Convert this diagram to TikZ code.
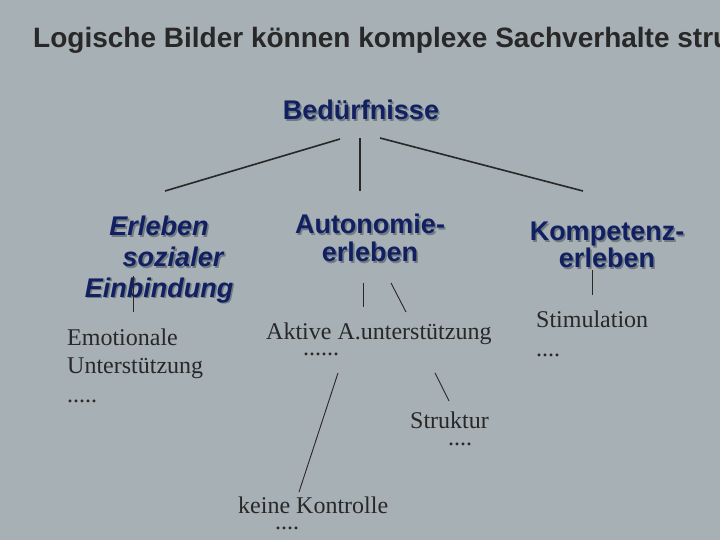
\documentclass[tikz,border=0pt]{standalone}
\usepackage{fontspec}
\setmainfont{Liberation Serif}
\setsansfont{Liberation Sans}
\usepackage{xcolor}
\usepackage{tikz}
\usetikzlibrary{positioning}
\definecolor{slidebg}{RGB}{166,176,181}
\definecolor{navy}{RGB}{18,32,98}
\definecolor{shadowgray}{RGB}{112,122,130}
\definecolor{ink}{RGB}{40,40,40}
\newcommand{\shad}[1]{\makebox[0pt][l]{\hspace{1.6bp}\raisebox{-1.6bp}{\color{shadowgray}#1}}#1}
\tikzset{>=latex}
\tikzset{head/.style = {inner sep=0, text=navy, align=center, anchor=base, font=\sffamily\bfseries\fontsize{27bp}{28bp}\selectfont}}
\tikzset{leaf/.style = {inner sep=0, text=ink, align=left, anchor=base west, font=\rmfamily\fontsize{24bp}{28.5bp}\selectfont}}
\tikzset{thickline/.style = {-, draw=ink, line width=1.6bp}}
\tikzset{thinline/.style = {-, draw=ink, line width=0.9bp}}

\begin{document}
\begin{tikzpicture}[x=1bp, y=-1bp]
\useasboundingbox (0,0) rectangle (720,540);
\clip (0,0) rectangle (720,540);
\fill [slidebg] (0,0) rectangle (720,540);
% title
\node [inner sep=0, anchor=base west, text=ink, font=\sffamily\bfseries\fontsize{28bp}{30bp}\selectfont] (title) at (33,48) {Logische Bilder können komplexe Sachverhalte strukturieren};
% needs (placed at baseline of last line)
\node [head] (bed) at (361,120) {\shad{Bedürfnisse}};
\node [head, font=\sffamily\bfseries\itshape\fontsize{27bp}{30.5bp}\selectfont] (erl) at (159,297) {\shad{Erleben}\\\hspace*{28bp}\shad{sozialer}\\\shad{Einbindung}};
\node [head] (aut) at (370,262) {\shad{Autonomie-}\\\shad{erleben}};
\node [head, font=\sffamily\bfseries\fontsize{27bp}{27bp}\selectfont] (kom) at (607,268) {\shad{Kompetenz-}\\\shad{erleben}};
% leaves
\node [leaf] (emo) at (67,402) {Emotionale\\Unterstützung\\.....};
\node [leaf] (akt) at (266,355) {Aktive A.unterstützung\\[-12.5bp]\hspace*{37bp}......};
\node [leaf] (sti) at (536,356) {Stimulation\\....};
\node [leaf] (str) at (410,445) {Struktur\\[-11.5bp]\hspace*{38bp}....};
\node [leaf] (kei) at (238,529) {keine Kontrolle\\[-12.5bp]\hspace*{37bp}....};
% line ends
\coordinate (bed-l) at (340,139);
\coordinate (bed-m) at (360,138);
\coordinate (bed-r) at (380,138);
\coordinate (erl-t) at (165,191);
\coordinate (aut-t) at (360,191);
\coordinate (kom-t) at (583,191);
\coordinate (erl-b) at (133,276);
\coordinate (emo-t) at (133,312);
\coordinate (aut-b1) at (363,283);
\coordinate (akt-t1) at (363,307);
\coordinate (aut-b2) at (391,283);
\coordinate (akt-t2) at (406,312);
\coordinate (kom-b) at (592,270);
\coordinate (sti-t) at (592,295);
\coordinate (akt-b1) at (338,373);
\coordinate (kei-t) at (299,492);
\coordinate (akt-b2) at (435,373);
\coordinate (str-t) at (449,401);
\draw [thickline] (bed-l) -- (erl-t);
\draw [thickline] (bed-m) -- (aut-t);
\draw [thickline] (bed-r) -- (kom-t);
\draw [thinline] (erl-b) -- (emo-t);
\draw [thinline] (aut-b1) -- (akt-t1);
\draw [thinline] (aut-b2) -- (akt-t2);
\draw [thinline] (kom-b) -- (sti-t);
\draw [thinline] (akt-b1) -- (kei-t);
\draw [thinline] (akt-b2) -- (str-t);
\end{tikzpicture}
\end{document}
